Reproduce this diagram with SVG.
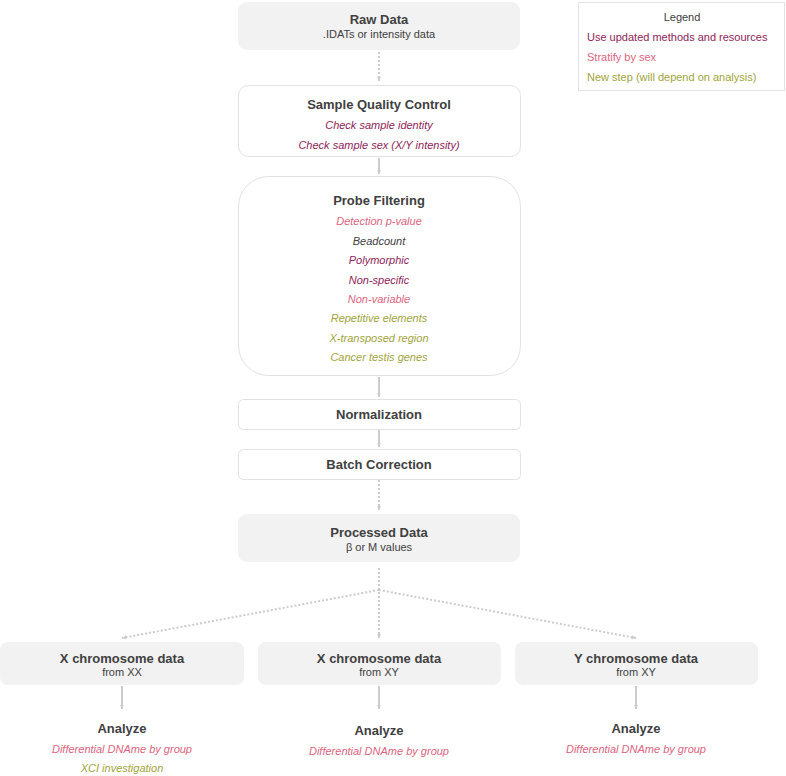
<svg xmlns="http://www.w3.org/2000/svg" width="786" height="776" viewBox="0 0 786 776">
<style>
text{font-family:"Liberation Sans",Arial,sans-serif;text-anchor:middle}
.t{font-size:13px;font-weight:bold;fill:#404040}
.s{font-size:11px;fill:#404040}
.i{font-size:11px;font-style:italic}
.p{fill:#8e2457}
.k{fill:#dc6480}
.o{fill:#9fa43a}
.d{fill:#404040}
.g{fill:#f2f2f2;stroke:none}
.w{fill:#fff;stroke:#e2e2e2;stroke-width:1}
.c{stroke:#cccccc;stroke-width:2;fill:none}
.dot{stroke-dasharray:2 2}
.lg{font-size:11px;text-anchor:start}
</style>
<defs>
<marker id="a" viewBox="0 0 10 10" refX="9" refY="5" markerWidth="5" markerHeight="5" orient="auto" markerUnits="userSpaceOnUse"><path d="M0,1 L10,5 L0,9 z" fill="#cccccc"/></marker>
</defs>
<g id="connectors">
<line class="c dot" x1="379" y1="52" x2="379" y2="81" marker-end="url(#a)"/>
<line class="c" x1="379" y1="158" x2="379" y2="174" marker-end="url(#a)"/>
<line class="c" x1="379" y1="377" x2="379" y2="397" marker-end="url(#a)"/>
<line class="c" x1="379" y1="430" x2="379" y2="447" marker-end="url(#a)"/>
<line class="c dot" x1="379" y1="480" x2="379" y2="510" marker-end="url(#a)"/>
<line class="c dot" x1="379" y1="568" x2="379" y2="638" marker-end="url(#a)"/>
<line class="c dot" x1="379" y1="590" x2="122" y2="638" marker-end="url(#a)"/>
<line class="c dot" x1="379" y1="590" x2="636" y2="638" marker-end="url(#a)"/>
<line class="c" x1="122" y1="686" x2="122" y2="709" marker-end="url(#a)"/>
<line class="c" x1="379" y1="686" x2="379" y2="709" marker-end="url(#a)"/>
<line class="c" x1="636" y1="686" x2="636" y2="709" marker-end="url(#a)"/>
</g>
<g id="raw">
<rect class="g" x="238" y="2" width="282" height="48" rx="9"/>
<text class="t" x="379" y="24">Raw Data</text>
<text class="s" x="379" y="38">.IDATs or intensity data</text>
</g>
<g id="sqc">
<rect class="w" x="238.5" y="85.5" width="282" height="71" rx="10"/>
<text class="t" x="379" y="109">Sample Quality Control</text>
<text class="i p" x="379" y="129">Check sample identity</text>
<text class="i p" x="379" y="149">Check sample sex (X/Y intensity)</text>
</g>
<g id="probe">
<rect class="w" x="238.5" y="176.5" width="282" height="199" rx="30"/>
<text class="t" x="379" y="205">Probe Filtering</text>
<text class="i k" x="379" y="225">Detection p-value</text>
<text class="i d" x="379" y="245">Beadcount</text>
<text class="i p" x="379" y="264">Polymorphic</text>
<text class="i p" x="379" y="284">Non-specific</text>
<text class="i k" x="379" y="303">Non-variable</text>
<text class="i o" x="379" y="322">Repetitive elements</text>
<text class="i o" x="379" y="342">X-transposed region</text>
<text class="i o" x="379" y="361">Cancer testis genes</text>
</g>
<g id="norm">
<rect class="w" x="238.5" y="399.5" width="282" height="30" rx="5"/>
<text class="t" x="379" y="419">Normalization</text>
</g>
<g id="batch">
<rect class="w" x="238.5" y="449.5" width="282" height="30" rx="5"/>
<text class="t" x="379" y="469">Batch Correction</text>
</g>
<g id="processed">
<rect class="g" x="238" y="514" width="282" height="48" rx="9"/>
<text class="t" x="379" y="537">Processed Data</text>
<text class="s" x="379" y="551">β or M values</text>
</g>
<g id="xxx">
<rect class="g" x="0" y="642" width="244" height="43" rx="8"/>
<text class="t" x="122" y="663">X chromosome data</text>
<text class="s" x="122" y="676">from XX</text>
</g>
<g id="xxy">
<rect class="g" x="258" y="642" width="243" height="43" rx="8"/>
<text class="t" x="379" y="663">X chromosome data</text>
<text class="s" x="379" y="676">from XY</text>
</g>
<g id="yxy">
<rect class="g" x="515" y="642" width="243" height="43" rx="8"/>
<text class="t" x="636" y="663">Y chromosome data</text>
<text class="s" x="636" y="676">from XY</text>
</g>
<g id="an1">
<text class="t" x="122" y="733">Analyze</text>
<text class="i k" x="122" y="753">Differential DNAme by group</text>
<text class="i o" x="122" y="772">XCI investigation</text>
</g>
<g id="an2">
<text class="t" x="379" y="735">Analyze</text>
<text class="i k" x="379" y="755">Differential DNAme by group</text>
</g>
<g id="an3">
<text class="t" x="636" y="733">Analyze</text>
<text class="i k" x="636" y="753">Differential DNAme by group</text>
</g>
<g id="legend">
<rect x="578.5" y="2.5" width="206" height="88" fill="#fff" stroke="#e2e2e2"/>
<text class="s" x="682" y="21">Legend</text>
<text class="lg p" x="587" y="41">Use updated methods and resources</text>
<text class="lg k" x="587" y="61">Stratify by sex</text>
<text class="lg o" x="587" y="81">New step (will depend on analysis)</text>
</g>
</svg>
